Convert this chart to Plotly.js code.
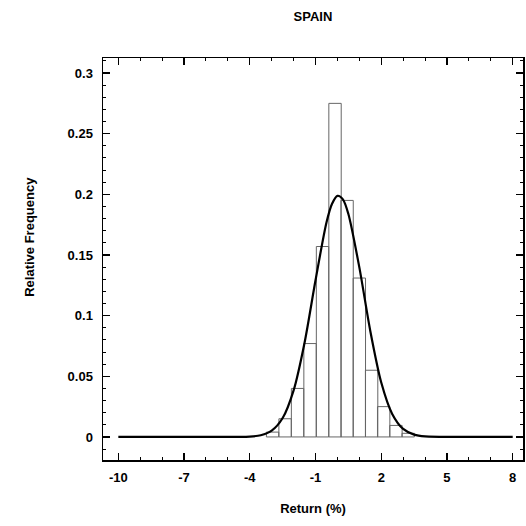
<!DOCTYPE html>
<html>
<head>
<meta charset="utf-8">
<script src="https://cdn.plot.ly/plotly-3.0.1.min.js"></script>
<style>html,body{margin:0;padding:0;background:#fff;}#chart{width:526px;height:526px;}</style>
</head>
<body>
<div id="chart"></div>
<script>
// Histogram bins (centers of bins, % return) and relative frequencies
const binCenters = [-2.96, -2.39, -1.82, -1.25, -0.68, -0.11, 0.44, 1.00, 1.56, 2.11, 2.67, 3.23];
const binFreq    = [0.004, 0.015, 0.040, 0.077, 0.157, 0.275, 0.195, 0.131, 0.055, 0.025, 0.0095, 0.003];
const binWidth = 0.565;

// Fitted normal curve
const curveX = [-10, -6, -4, -3.5, -3, -2.5, -2, -1.5, -1, -0.5, -0.25, 0, 0.25, 0.5, 1, 1.5, 2, 2.5, 3, 3.5, 4, 6, 8];
const curveY = [0, 0, 0.0003, 0.0014, 0.0052, 0.0156, 0.0384, 0.0777, 0.1292, 0.1768, 0.1921, 0.1988, 0.1959, 0.1838, 0.1398, 0.0874, 0.0449, 0.0190, 0.0066, 0.0019, 0.0004, 0, 0];

// Axis ticks
const xTickVals = [-10, -7, -4, -1, 2, 5, 8];
const xTickText = ["-10", "-7", "-4", "-1", "2", "5", "8"];
const yTickVals = [0, 0.05, 0.1, 0.15, 0.2, 0.25, 0.3];
const yTickText = ["0", "0.05", "0.1", "0.15", "0.2", "0.25", "0.3"];

const font = {family: "Liberation Sans, Arial, sans-serif", size: 13, color: "#000", weight: "bold"};
const tfont = {family: "Liberation Sans, Arial, sans-serif", size: 13, color: "#000", weight: "bold"};

const traces = [
  {
    type: "bar",
    x: binCenters,
    y: binFreq,
    width: binWidth,
    marker: {color: "rgba(255,255,255,0)", line: {color: "#666", width: 1}},
    hoverinfo: "skip"
  },
  {
    type: "scatter",
    mode: "lines",
    x: curveX,
    y: curveY,
    line: {color: "#000", width: 2.2, shape: "spline", smoothing: 0.8},
    hoverinfo: "skip"
  }
];

const layout = {
  width: 526,
  height: 526,
  showlegend: false,
  paper_bgcolor: "#fff",
  plot_bgcolor: "#fff",
  margin: {l: 103, r: 3, t: 58, b: 66},
  title: {text: "SPAIN", font: font, x: 0.595, xanchor: "center", y: 0.968, yanchor: "middle"},
  xaxis: {
    range: [-10.70, 8.47],
    tickmode: "array",
    tickvals: xTickVals,
    ticktext: xTickText,
    ticks: "inside",
    ticklen: 7,
    tickwidth: 1.2,
    tickcolor: "#000",
    minor: {dtick: 1, tick0: -10, ticks: "inside", ticklen: 3, tickcolor: "#000", tickwidth: 1},
    showline: true,
    linecolor: "#000",
    linewidth: 1.5,
    mirror: "ticks",
    showgrid: false,
    zeroline: false,
    tickfont: tfont,
    ticklabelstandoff: 5,
    title: {text: "Return (%)", font: font, standoff: 20}
  },
  yaxis: {
    range: [-0.019, 0.3124],
    tickmode: "array",
    tickvals: yTickVals,
    ticktext: yTickText,
    ticks: "inside",
    ticklen: 7,
    tickwidth: 1.2,
    tickcolor: "#000",
    minor: {dtick: 0.01, tick0: 0, ticks: "inside", ticklen: 3, tickcolor: "#000", tickwidth: 1},
    showline: true,
    linecolor: "#000",
    linewidth: 1.5,
    mirror: "ticks",
    showgrid: false,
    zeroline: false,
    tickfont: tfont,
    ticklabelstandoff: 6
  },
  annotations: [
    {text: "Relative Frequency", font: font, textangle: -90, showarrow: false,
     xref: "paper", yref: "paper", x: -0.174, y: 0.555, xanchor: "center", yanchor: "middle"}
  ],
  bargap: 0
};

Plotly.newPlot("chart", traces, layout, {staticPlot: true, displayModeBar: false});
</script>
</body>
</html>
